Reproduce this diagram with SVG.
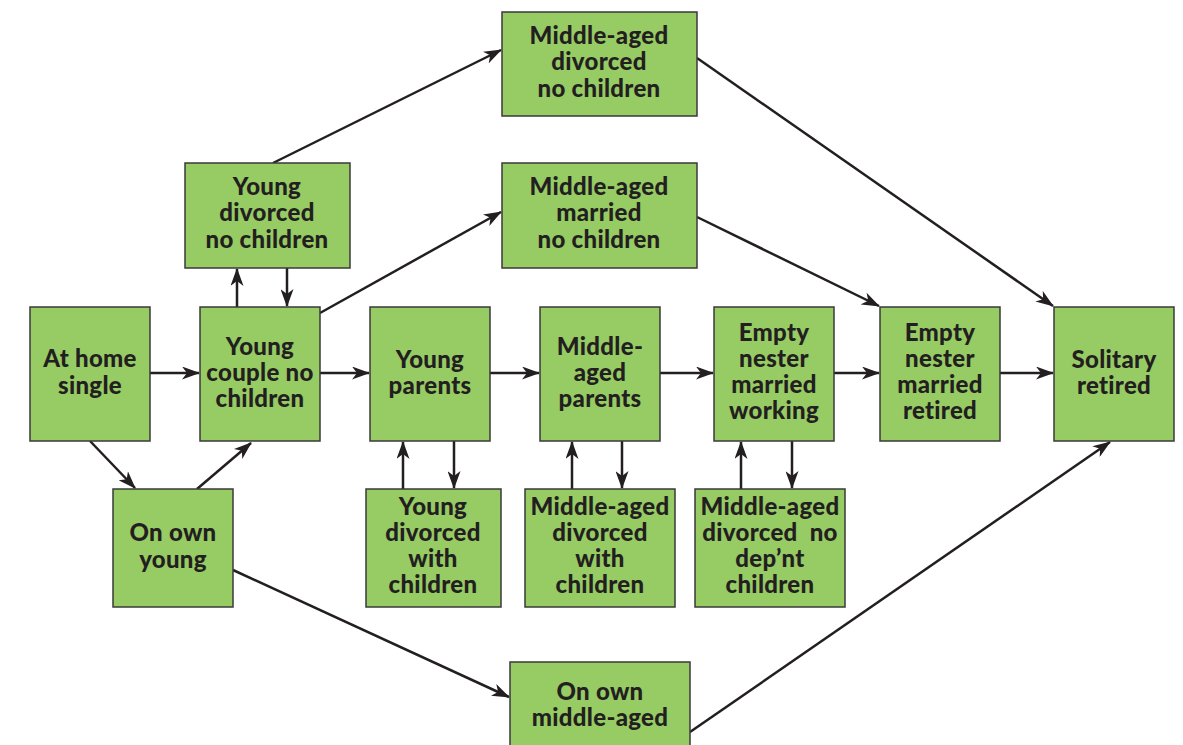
<svg xmlns="http://www.w3.org/2000/svg" width="1183" height="745" viewBox="0 0 1183 745">
<style>
.box{fill:#97cb64;stroke:#3a3a3a;stroke-width:1.5}
.t{font-family:Lato,"Open Sans",sans-serif;font-weight:900;font-size:24px;letter-spacing:0.3px;fill:#231f20;text-anchor:middle}
.c{stroke:#231f20;stroke-width:2.5;fill:none;marker-end:url(#ah)}
</style>
<defs>
<marker id="ah" viewBox="0 0 18 13" refX="17" refY="6.5" markerWidth="18" markerHeight="13" markerUnits="userSpaceOnUse" orient="auto">
<path d="M0,0 L18,6.5 L0,13 L5,6.5 Z" fill="#231f20"/>
</marker>
</defs>
<rect width="1183" height="745" fill="#ffffff"/>
<g id="connectors">
<line class="c" x1="150" y1="373" x2="199" y2="373"/>
<line class="c" x1="320" y1="373" x2="369" y2="373"/>
<line class="c" x1="490" y1="373" x2="539" y2="373"/>
<line class="c" x1="660" y1="373" x2="713" y2="373"/>
<line class="c" x1="834" y1="373" x2="879" y2="373"/>
<line class="c" x1="1000" y1="373" x2="1053" y2="373"/>
<line class="c" x1="90" y1="441" x2="135" y2="488"/>
<line class="c" x1="197" y1="489" x2="251" y2="443"/>
<line class="c" x1="237" y1="307" x2="237" y2="269"/>
<line class="c" x1="287" y1="268" x2="287" y2="306"/>
<line class="c" x1="273" y1="163" x2="501" y2="50"/>
<line class="c" x1="320" y1="313" x2="501" y2="212"/>
<line class="c" x1="697" y1="58" x2="1053" y2="306"/>
<line class="c" x1="697" y1="217" x2="879" y2="306"/>
<line class="c" x1="403" y1="489" x2="403" y2="442"/>
<line class="c" x1="454" y1="441" x2="454" y2="488"/>
<line class="c" x1="572" y1="489" x2="572" y2="442"/>
<line class="c" x1="622" y1="441" x2="622" y2="488"/>
<line class="c" x1="741" y1="489" x2="741" y2="442"/>
<line class="c" x1="792" y1="441" x2="792" y2="488"/>
<line class="c" x1="233" y1="570" x2="509" y2="697"/>
<line class="c" x1="690" y1="732" x2="1110" y2="442"/>
</g>
<g id="n-at-home">
<rect class="box" x="30" y="307" width="120" height="134"/>
<text class="t" x="90" y="367">At home</text><text class="t" x="90" y="394">single</text>
</g>
<g id="n-young-couple">
<rect class="box" x="200" y="307" width="120" height="134"/>
<text class="t" x="260" y="355">Young</text><text class="t" x="260" y="381">couple no</text><text class="t" x="260" y="407">children</text>
</g>
<g id="n-young-parents">
<rect class="box" x="370" y="307" width="120" height="134"/>
<text class="t" x="430" y="368">Young</text><text class="t" x="430" y="394">parents</text>
</g>
<g id="n-ma-parents">
<rect class="box" x="540" y="307" width="120" height="134"/>
<text class="t" x="600" y="355">Middle-</text><text class="t" x="600" y="381">aged</text><text class="t" x="600" y="407">parents</text>
</g>
<g id="n-empty-working">
<rect class="box" x="714" y="307" width="120" height="134"/>
<text class="t" x="774" y="341">Empty</text><text class="t" x="774" y="367">nester</text><text class="t" x="774" y="393">married</text><text class="t" x="774" y="419">working</text>
</g>
<g id="n-empty-retired">
<rect class="box" x="880" y="307" width="120" height="134"/>
<text class="t" x="940" y="341">Empty</text><text class="t" x="940" y="367">nester</text><text class="t" x="940" y="393">married</text><text class="t" x="940" y="419">retired</text>
</g>
<g id="n-solitary">
<rect class="box" x="1054" y="307" width="120" height="134"/>
<text class="t" x="1114" y="368">Solitary</text><text class="t" x="1114" y="394">retired</text>
</g>
<g id="n-young-div-nochild">
<rect class="box" x="185" y="163" width="165" height="105"/>
<text class="t" x="267" y="195">Young</text><text class="t" x="267" y="221">divorced</text><text class="t" x="267" y="248">no children</text>
</g>
<g id="n-ma-div-nochild">
<rect class="box" x="502" y="12" width="195" height="104"/>
<text class="t" x="599" y="44">Middle-aged</text><text class="t" x="599" y="70">divorced</text><text class="t" x="599" y="97">no children</text>
</g>
<g id="n-ma-married-nochild">
<rect class="box" x="502" y="163" width="195" height="105"/>
<text class="t" x="599" y="195">Middle-aged</text><text class="t" x="599" y="221">married</text><text class="t" x="599" y="248">no children</text>
</g>
<g id="n-on-own-young">
<rect class="box" x="113" y="489" width="120" height="118"/>
<text class="t" x="173" y="541">On own</text><text class="t" x="173" y="568">young</text>
</g>
<g id="n-young-div-child">
<rect class="box" x="366" y="489" width="135" height="118"/>
<text class="t" x="433" y="515">Young</text><text class="t" x="433" y="541">divorced</text><text class="t" x="433" y="567">with</text><text class="t" x="433" y="593">children</text>
</g>
<g id="n-ma-div-child">
<rect class="box" x="525" y="489" width="150" height="118"/>
<text class="t" x="600" y="515">Middle-aged</text><text class="t" x="600" y="541">divorced</text><text class="t" x="600" y="567">with</text><text class="t" x="600" y="593">children</text>
</g>
<g id="n-ma-div-nodep">
<rect class="box" x="695" y="489" width="150" height="118"/>
<text class="t" x="770" y="515">Middle-aged</text><text class="t" x="770" y="541" xml:space="preserve">divorced  no</text><text class="t" x="770" y="567">dep’nt</text><text class="t" x="770" y="593">children</text>
</g>
<g id="n-on-own-ma">
<rect class="box" x="510" y="662" width="180" height="90"/>
<text class="t" x="600" y="700">On own</text><text class="t" x="600" y="726">middle-aged</text>
</g>
</svg>
